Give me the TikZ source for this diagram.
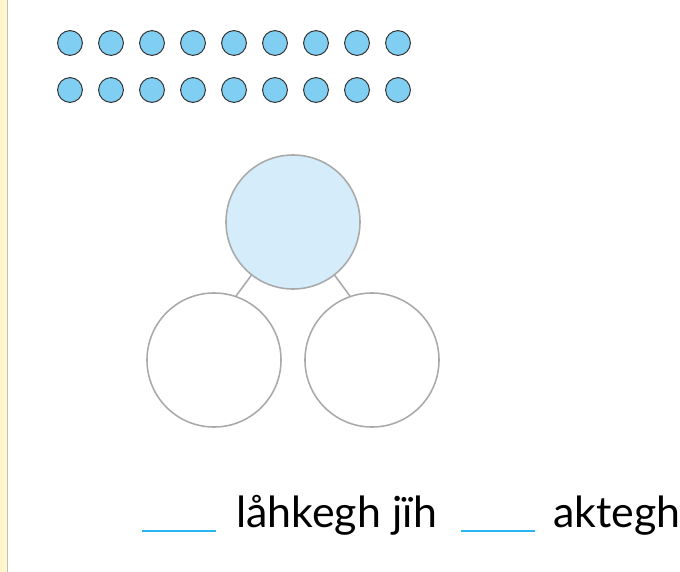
\documentclass[tikz,border=0pt]{standalone}
\usepackage{fontspec}
\setmainfont{Lato}
\usepackage{xcolor}
\definecolor{dotblue}{HTML}{80CFF2}
\definecolor{dotrule}{HTML}{333333}
\definecolor{bondgray}{HTML}{A9A9A9}
\definecolor{wholeblue}{HTML}{D5ECFA}
\definecolor{blankblue}{HTML}{2BB5EE}
\definecolor{margincream}{HTML}{FFF6CC}
\definecolor{marginrule}{HTML}{BDBDBD}
\usetikzlibrary{positioning}

\begin{document}
\begin{tikzpicture}[x=0.025cm,y=-0.025cm,
  part/.style={circle,draw=bondgray,line width=1.1pt,minimum size=3.35cm,inner sep=0pt},
  bond/.style={bondgray,line width=1.1pt},
  blank/.style={blankblue,line width=1.5pt},
  words/.style={font=\fontsize{30.5}{36}\selectfont,inner sep=0pt,anchor=base west}]
\useasboundingbox (0,0) rectangle (680,572);
% margin strip
\fill[margincream] (0,0) rectangle (7,572);
\draw[marginrule,line width=1.2pt] (7.5,0) -- (7.5,572);
% counters: two rows of nine
\foreach \y in {43,90}
  \foreach \i in {0,...,8}
    \filldraw[fill=dotblue,draw=dotrule,line width=0.7pt] (70+41*\i,\y) circle (0.31cm);
% number bond
\node[part,fill=wholeblue] (whole) at (293,222) {};
\node[part] (lpart) at (214,360) {};
\node[part] (rpart) at (372,360) {};
\draw[bond] (whole.232) -- (lpart.71);
\draw[bond] (whole.308) -- (rpart.109);
% sentence
\coordinate (b1s) at (142,531);
\coordinate (b1e) at (216,531);
\coordinate (b2s) at (461,531);
\coordinate (b2e) at (535,531);
\draw[blank] (b1s) -- (b1e);
\draw[blank] (b2s) -- (b2e);
\node[words] (mid) at (236,527) {låhkegh jïh};
\node[words] (tail) at (553,527) {aktegh};
\end{tikzpicture}
\end{document}
